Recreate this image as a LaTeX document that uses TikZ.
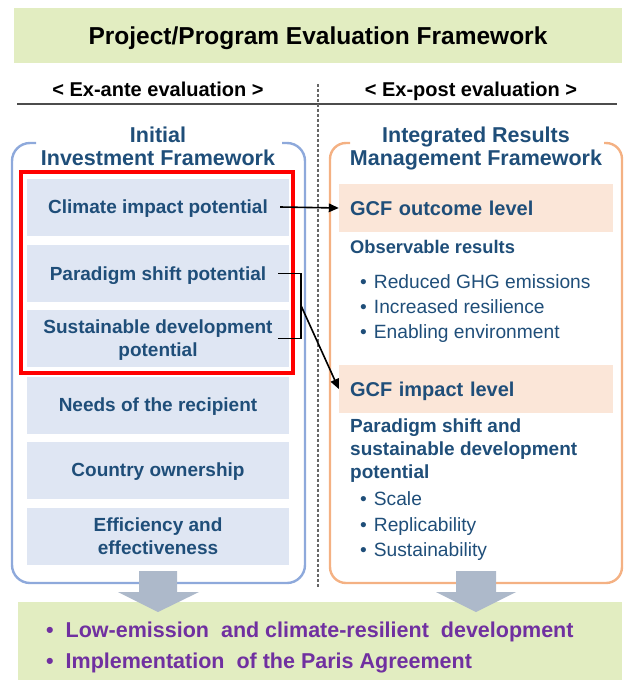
\documentclass[tikz,border=0pt]{standalone}
\usepackage{fontspec}
\setmainfont{Liberation Sans}
\usetikzlibrary{arrows.meta,calc}
\definecolor{headgreen}{HTML}{E2EDC1}
\definecolor{cellblue}{HTML}{DFE6F3}
\definecolor{cellpeach}{HTML}{FBE6D8}
\definecolor{frameblue}{HTML}{8EA9DB}
\definecolor{frameorange}{HTML}{F4B183}
\definecolor{inkblue}{HTML}{1F4E79}
\definecolor{goalpurple}{HTML}{7030A0}
\definecolor{flowgray}{HTML}{ADB9CA}
\begin{document}
\begin{tikzpicture}[x=1pt,y=1pt,
  every node/.append style={inner sep=0pt,text depth=0.03em},
  ifcell/.style={fill=cellblue,minimum width=262,minimum height=57,align=center,text=inkblue,font=\bfseries\fontsize{19}{23}\selectfont},
  rmcell/.style={fill=cellpeach,minimum width=274,minimum height=48,text width=252,inner xsep=11,align=left,text=inkblue,font=\bfseries\fontsize{20}{23}\selectfont},
  rmhead/.style={anchor=west,align=left,text=inkblue,font=\bfseries\fontsize{19}{23}\selectfont},
  rmitem/.style={anchor=west,text=inkblue,font=\fontsize{19.2}{22}\selectfont},
  fwtitle/.style={align=center,text=inkblue,font=\bfseries\fontsize{21.5}{23}\selectfont},
  goal/.style={anchor=west,text=goalpurple,font=\bfseries\fontsize{21.5}{24}\selectfont},
  link/.style={black,line width=1.6,-{Triangle[length=10,width=8.5]}},
]
\useasboundingbox (0,0) rectangle (626,-680);

\node[fill=headgreen,minimum width=608,minimum height=55,font=\bfseries\fontsize{24.5}{28}\selectfont] (title) at (318,-35.5) {Project/Program Evaluation Framework};
\node[font=\bfseries\fontsize{20}{24}\selectfont] (exante) at (158,-89) {< Ex-ante evaluation >};
\node[font=\bfseries\fontsize{20}{24}\selectfont] (expost) at (471,-89) {< Ex-post evaluation >};
\draw[black!70,line width=1.2] (17,-104) -- (617,-104);
\draw[black!60,line width=1.2,dash pattern=on 3 off 2] (318,-84) -- (318,-588);

\draw[frameblue,line width=2.4,rounded corners=18] (36,-143) -| (12,-583) -| (305,-143) -- (282,-143);
\draw[frameorange,line width=2.4,rounded corners=16] (350,-143) -| (330,-583) -| (622,-143) -- (604,-143);
\node[fwtitle] (iftitle) at (158,-146) {Initial\\Investment Framework};
\node[fwtitle] (rmtitle) at (476,-146) {Integrated Results\\Management Framework};

\node[ifcell] (climate) at (158,-207) {Climate impact potential};
\node[ifcell] (paradigm) at (158,-273.5) {Paradigm shift potential};
\node[ifcell] (sustain) at (158,-338.5) {Sustainable development\\potential};
\node[ifcell] (needs) at (158,-405) {Needs of the recipient};
\node[ifcell] (country) at (158,-470) {Country ownership};
\node[ifcell] (effic) at (158,-536) {Efficiency and\\effectiveness};
\node[draw=red,line width=3.5,minimum width=272,minimum height=201] (chosen) at (157,-272.5) {};

\node[rmcell] (outcome) at (476,-208) {GCF outcome level};
\node[rmhead,font=\bfseries\fontsize{18.3}{23}\selectfont] (observ) at (350,-247) {Observable results};
\node[rmitem] (ghg) at (360,-282) {\textbullet\hspace{7pt}Reduced GHG emissions};
\node[rmitem] (resil) at (360,-307) {\textbullet\hspace{7pt}Increased resilience};
\node[rmitem] (enable) at (360,-332) {\textbullet\hspace{7pt}Enabling environment};
\node[rmcell] (impact) at (476,-389) {GCF impact level};
\node[rmhead] (shift) at (350,-449) {Paradigm shift and\\sustainable development\\potential};
\node[rmitem] (scale) at (360,-499) {\textbullet\hspace{7pt}Scale};
\node[rmitem] (replic) at (360,-525) {\textbullet\hspace{7pt}Replicability};
\node[rmitem] (sustbl) at (360,-550) {\textbullet\hspace{7pt}Sustainability};

\draw[link] ([xshift=-9]climate.east) -- (outcome.west);
\draw[black,line width=1.8] ([xshift=-11]paradigm.east) -- ++(23,0) |- ([xshift=-11]sustain.east);
\coordinate (brk) at ($(paradigm.east)!0.5!(sustain.east)+(12,0)$);
\draw[link] (brk) -- (impact.west);

\node[fill=headgreen,minimum width=604,minimum height=78] (goals) at (320,-641) {};
\fill[flowgray] (139,-571) -- (177,-571) -- (177,-592) -- (199,-592) -- (158,-612) -- (118,-592) -- (139,-592) -- cycle;
\fill[flowgray] (456,-571) -- (496,-571) -- (496,-592) -- (516,-592) -- (476,-612) -- (436,-592) -- (456,-592) -- cycle;
\node[goal] (lowem) at (46,-630) {\textbullet\hspace{12pt}Low-emission\hspace{6pt} and climate-resilient\hspace{6pt} development};
\node[goal] (paris) at (46,-661) {\textbullet\hspace{12pt}Implementation\hspace{6pt} of the Paris Agreement};
\end{tikzpicture}
\end{document}
